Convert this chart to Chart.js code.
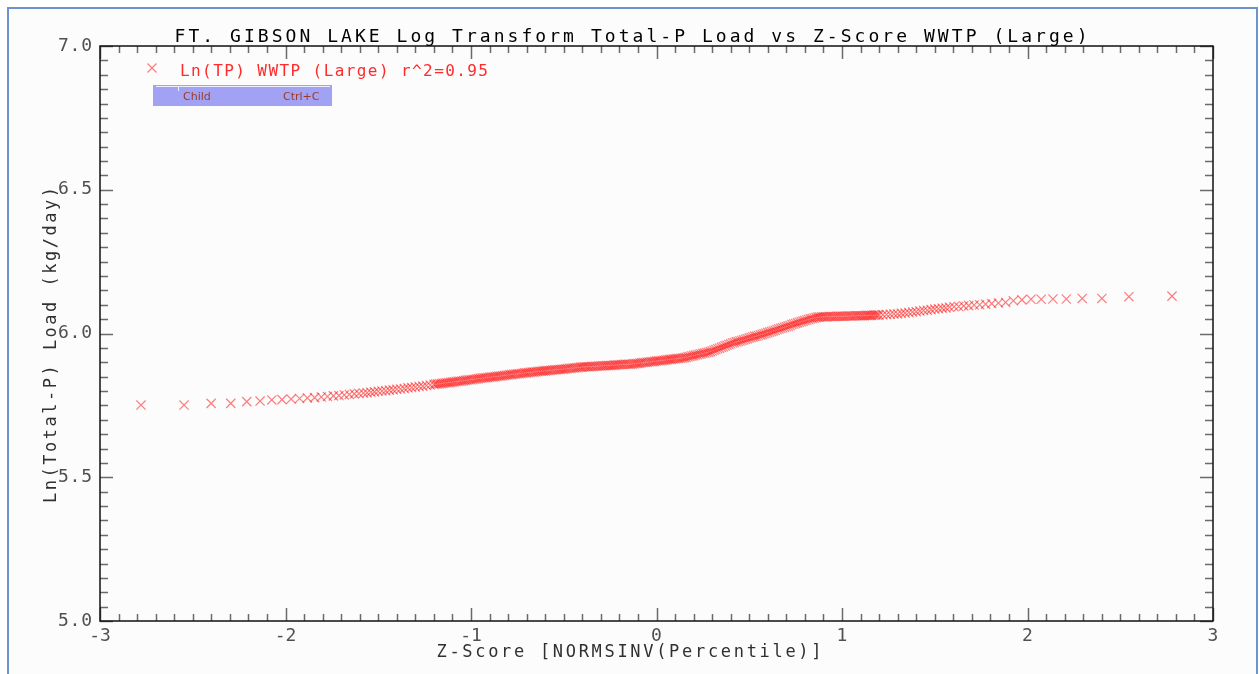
<!DOCTYPE html>
<html>
<head>
<meta charset="utf-8">
<title>FT. GIBSON LAKE Log Transform Total-P Load vs Z-Score WWTP (Large)</title>
<script src="https://cdn.jsdelivr.net/npm/chart.js@4.4.0/dist/chart.umd.min.js"></script>
<style>
  html, body { margin: 0; padding: 0; background: #ffffff; }
  #wrap { width: 1259px; height: 674px; }
</style>
</head>
<body>
<div id="wrap"><canvas id="chart" width="1259" height="674"></canvas></div>
<script>
// z-scores, lower tail (single visible markers)
const zLow = [-2.779, -2.547, -2.401, -2.295, -2.209, -2.137, -2.074, -2.019, -1.970, -1.924,
  -1.882, -1.843, -1.807, -1.774, -1.742, -1.712, -1.683, -1.656, -1.629, -1.604];
const lnLow = [5.751, 5.751, 5.757, 5.757, 5.763, 5.765, 5.769, 5.770, 5.772, 5.774,
  5.776, 5.777, 5.779, 5.781, 5.783, 5.784, 5.786, 5.788, 5.790, 5.791];

// middle band (even hundredths)
const zMid = [
  -1.58, -1.56, -1.54, -1.52, -1.50, -1.48, -1.46, -1.44, -1.42, -1.40,
  -1.38, -1.36, -1.34, -1.32, -1.30, -1.28, -1.26, -1.24, -1.22, -1.20,
  -1.18, -1.16, -1.14, -1.12, -1.10, -1.08, -1.06, -1.04, -1.02, -1.00,
  -0.98, -0.96, -0.94, -0.92, -0.90, -0.88, -0.86, -0.84, -0.82, -0.80,
  -0.78, -0.76, -0.74, -0.72, -0.70, -0.68, -0.66, -0.64, -0.62, -0.60,
  -0.58, -0.56, -0.54, -0.52, -0.50, -0.48, -0.46, -0.44, -0.42, -0.40,
  -0.38, -0.36, -0.34, -0.32, -0.30, -0.28, -0.26, -0.24, -0.22, -0.20,
  -0.18, -0.16, -0.14, -0.12, -0.10, -0.08, -0.06, -0.04, -0.02, 0.00,
  0.02, 0.04, 0.06, 0.08, 0.10, 0.12, 0.14, 0.16, 0.18, 0.20,
  0.22, 0.24, 0.26, 0.28, 0.30, 0.32, 0.34, 0.36, 0.38, 0.40,
  0.42, 0.44, 0.46, 0.48, 0.50, 0.52, 0.54, 0.56, 0.58, 0.60,
  0.62, 0.64, 0.66, 0.68, 0.70, 0.72, 0.74, 0.76, 0.78, 0.80,
  0.82, 0.84, 0.86, 0.88, 0.90, 0.92, 0.94, 0.96, 0.98, 1.00,
  1.02, 1.04, 1.06, 1.08, 1.10, 1.12, 1.14, 1.16, 1.18, 1.20,
  1.22, 1.24, 1.26, 1.28, 1.30, 1.32, 1.34, 1.36, 1.38, 1.40,
  1.42, 1.44, 1.46, 1.48, 1.50, 1.52, 1.54, 1.56, 1.58
];
const lnMid = [
  5.793, 5.794, 5.796, 5.797, 5.799, 5.800, 5.801, 5.803, 5.804, 5.806,
  5.807, 5.809, 5.811, 5.812, 5.814, 5.816, 5.817, 5.819, 5.821, 5.823,
  5.824, 5.826, 5.828, 5.829, 5.831, 5.833, 5.834, 5.836, 5.838, 5.839,
  5.841, 5.843, 5.845, 5.846, 5.848, 5.849, 5.851, 5.852, 5.854, 5.856,
  5.857, 5.859, 5.860, 5.862, 5.863, 5.865, 5.866, 5.868, 5.869, 5.870,
  5.871, 5.873, 5.874, 5.875, 5.876, 5.878, 5.879, 5.880, 5.882, 5.883,
  5.884, 5.884, 5.885, 5.886, 5.887, 5.888, 5.889, 5.889, 5.890, 5.891,
  5.892, 5.893, 5.893, 5.895, 5.896, 5.898, 5.899, 5.901, 5.902, 5.904,
  5.905, 5.907, 5.909, 5.910, 5.912, 5.913, 5.915, 5.917, 5.920, 5.923,
  5.926, 5.929, 5.932, 5.935, 5.939, 5.944, 5.949, 5.954, 5.959, 5.964,
  5.969, 5.972, 5.976, 5.980, 5.984, 5.988, 5.991, 5.995, 5.999, 6.003,
  6.007, 6.011, 6.016, 6.020, 6.024, 6.028, 6.033, 6.037, 6.041, 6.045,
  6.049, 6.052, 6.056, 6.057, 6.058, 6.058, 6.059, 6.059, 6.060, 6.060,
  6.060, 6.061, 6.061, 6.062, 6.062, 6.062, 6.063, 6.063, 6.064, 6.064,
  6.065, 6.066, 6.067, 6.068, 6.068, 6.070, 6.071, 6.073, 6.075, 6.076,
  6.078, 6.080, 6.081, 6.083, 6.085, 6.086, 6.088, 6.089, 6.091
];

// densest part of the band (odd hundredths)
const zMid2 = [
  -1.19, -1.17, -1.15, -1.13, -1.11, -1.09, -1.07, -1.05, -1.03, -1.01,
  -0.99, -0.97, -0.95, -0.93, -0.91, -0.89, -0.87, -0.85, -0.83, -0.81,
  -0.79, -0.77, -0.75, -0.73, -0.71, -0.69, -0.67, -0.65, -0.63, -0.61,
  -0.59, -0.57, -0.55, -0.53, -0.51, -0.49, -0.47, -0.45, -0.43, -0.41,
  -0.39, -0.37, -0.35, -0.33, -0.31, -0.29, -0.27, -0.25, -0.23, -0.21,
  -0.19, -0.17, -0.15, -0.13, -0.11, -0.09, -0.07, -0.05, -0.03, -0.01,
  0.01, 0.03, 0.05, 0.07, 0.09, 0.11, 0.13, 0.15, 0.17, 0.19,
  0.21, 0.23, 0.25, 0.27, 0.29, 0.31, 0.33, 0.35, 0.37, 0.39,
  0.41, 0.43, 0.45, 0.47, 0.49, 0.51, 0.53, 0.55, 0.57, 0.59,
  0.61, 0.63, 0.65, 0.67, 0.69, 0.71, 0.73, 0.75, 0.77, 0.79,
  0.81, 0.83, 0.85, 0.87, 0.89, 0.91, 0.93, 0.95, 0.97, 0.99,
  1.01, 1.03, 1.05, 1.07, 1.09, 1.11, 1.13, 1.15, 1.17, 1.19
];
const lnMid2 = [
  5.824, 5.825, 5.827, 5.829, 5.830, 5.832, 5.834, 5.835, 5.837, 5.839,
  5.840, 5.842, 5.844, 5.846, 5.847, 5.849, 5.850, 5.852, 5.853, 5.855,
  5.857, 5.858, 5.860, 5.861, 5.863, 5.864, 5.866, 5.867, 5.869, 5.870,
  5.871, 5.872, 5.874, 5.875, 5.876, 5.877, 5.879, 5.880, 5.881, 5.883,
  5.884, 5.884, 5.885, 5.886, 5.887, 5.888, 5.889, 5.889, 5.890, 5.891,
  5.892, 5.893, 5.893, 5.894, 5.896, 5.897, 5.899, 5.900, 5.902, 5.903,
  5.905, 5.906, 5.908, 5.910, 5.911, 5.913, 5.914, 5.916, 5.919, 5.922,
  5.925, 5.928, 5.931, 5.934, 5.937, 5.942, 5.947, 5.952, 5.957, 5.962,
  5.967, 5.971, 5.974, 5.978, 5.982, 5.986, 5.990, 5.993, 5.997, 6.001,
  6.005, 6.009, 6.014, 6.018, 6.022, 6.026, 6.031, 6.035, 6.039, 6.043,
  6.047, 6.051, 6.054, 6.057, 6.058, 6.058, 6.059, 6.059, 6.060, 6.060,
  6.060, 6.061, 6.061, 6.062, 6.062, 6.062, 6.063, 6.063, 6.064, 6.064
];

// upper tail
const zHigh = [1.604, 1.629, 1.656, 1.683, 1.712, 1.742, 1.774, 1.807, 1.843, 1.882,
  1.924, 1.970, 2.019, 2.074, 2.137, 2.209, 2.295, 2.401, 2.547, 2.779];
const lnHigh = [6.093, 6.094, 6.096, 6.097, 6.099, 6.100, 6.102, 6.104, 6.106, 6.108,
  6.114, 6.117, 6.119, 6.119, 6.120, 6.120, 6.122, 6.122, 6.128, 6.130];

const xTickValues = [-3, -2, -1, 0, 1, 2, 3];
const xTickLabels = ['-3', '-2', '-1', '0', '1', '2', '3'];
const yTickValues = [5.0, 5.5, 6.0, 6.5, 7.0];
const yTickLabels = ['5.0', '5.5', '6.0', '6.5', '7.0'];

const titleText = 'FT. GIBSON LAKE Log Transform Total-P Load vs Z-Score WWTP (Large)';
const seriesLabel = 'Ln(TP) WWTP (Large) r^2=0.95';
const xTitle = 'Z-Score [NORMSINV(Percentile)]';
const yTitle = 'Ln(Total-P) Load (kg/day)';

const zAll = zLow.concat(zMid, zMid2, zHigh);
const lnAll = lnLow.concat(lnMid, lnMid2, lnHigh);
const points = zAll.map((z, i) => ({ x: z, y: lnAll[i] }));

const MONO = '"DejaVu Sans Mono", "Liberation Mono", monospace';
const markerColor = 'rgba(255, 0, 0, 0.5)';

// draw text char by char so it fills a given width (wide letter spacing of the original)
function spacedText(ctx, text, x, y, width, align) {
  const chars = [...text];
  const ws = chars.map(c => ctx.measureText(c).width);
  const natural = ws.reduce((a, b) => a + b, 0);
  const gap = chars.length > 1 ? (width - natural) / (chars.length - 1) : 0;
  let cx = align === 'center' ? x - width / 2 : (align === 'right' ? x - width : x);
  ctx.textAlign = 'left';
  chars.forEach((c, i) => {
    ctx.fillText(c, cx, y);
    cx += ws[i] + gap;
  });
}

const framePlugin = {
  id: 'frame',
  beforeDraw(chart) {
    const ctx = chart.ctx;
    ctx.save();
    ctx.fillStyle = '#fcfcfc';
    ctx.fillRect(8, 8, 1249, 700);
    ctx.strokeStyle = '#6b93cf';
    ctx.lineWidth = 2;
    ctx.strokeRect(8, 8, 1249, 700);
    ctx.restore();
  },
  afterDraw(chart) {
    const ctx = chart.ctx;
    const a = chart.chartArea;
    const xs = chart.scales.x, ys = chart.scales.y;
    ctx.save();

    // inward ticks on all four sides
    ctx.strokeStyle = '#6a6a6a';
    ctx.lineWidth = 1.5;
    ctx.beginPath();
    for (let i = -30; i <= 30; i++) {
      const px = Math.round(xs.getPixelForValue(i / 10)) + 0.5;
      const len = i % 10 === 0 ? 13 : 7;
      ctx.moveTo(px, a.bottom); ctx.lineTo(px, a.bottom - len);
      ctx.moveTo(px, a.top); ctx.lineTo(px, a.top + len);
    }
    for (let i = 0; i <= 40; i++) {
      const py = Math.round(ys.getPixelForValue(5 + i * 0.05)) + 0.5;
      const len = i % 10 === 0 ? 13 : 8;
      ctx.moveTo(a.left, py); ctx.lineTo(a.left + len, py);
      ctx.moveTo(a.right, py); ctx.lineTo(a.right - len, py);
    }
    ctx.stroke();

    // axis box
    ctx.strokeStyle = '#111111';
    ctx.lineWidth = 1.5;
    ctx.strokeRect(a.left, a.top, a.right - a.left, a.bottom - a.top);

    // tick labels
    ctx.fillStyle = '#505050';
    ctx.font = '18px ' + MONO;
    ctx.textBaseline = 'middle';
    yTickValues.forEach((v, i) => {
      spacedText(ctx, yTickLabels[i], a.left - 8, ys.getPixelForValue(v), 34, 'right');
    });
    ctx.textBaseline = 'alphabetic';
    ctx.textAlign = 'center';
    xTickValues.forEach((v, i) => {
      ctx.fillText(xTickLabels[i], xs.getPixelForValue(v), 641);
    });

    // title
    ctx.fillStyle = '#000000';
    ctx.font = '18px ' + MONO;
    spacedText(ctx, titleText, 631, 42, 913, 'center');

    // axis titles
    ctx.fillStyle = '#303030';
    ctx.font = '17px ' + MONO;
    spacedText(ctx, xTitle, 629, 657, 385, 'center');
    ctx.save();
    ctx.translate(56, 345);
    ctx.rotate(-Math.PI / 2);
    spacedText(ctx, yTitle, 0, 0, 316, 'center');
    ctx.restore();

    // legend
    ctx.strokeStyle = markerColor;
    ctx.lineWidth = 1.2;
    ctx.beginPath();
    ctx.moveTo(147.5, 63.5); ctx.lineTo(156.5, 72.5);
    ctx.moveTo(156.5, 63.5); ctx.lineTo(147.5, 72.5);
    ctx.stroke();
    ctx.fillStyle = '#ff2a2a';
    ctx.font = '16px ' + MONO;
    spacedText(ctx, seriesLabel, 180, 76, 308, 'left');

    // the little "Child / Ctrl+C" tooltip bar in the original screenshot
    ctx.fillStyle = '#a2a2f4';
    ctx.fillRect(153, 85, 179, 21);
    ctx.strokeStyle = '#eeeeff';
    ctx.lineWidth = 1;
    ctx.beginPath();
    ctx.moveTo(156, 86.5); ctx.lineTo(330, 86.5);
    ctx.moveTo(178.5, 86.5); ctx.lineTo(178.5, 91);
    ctx.stroke();
    ctx.fillStyle = '#9a3a2a';
    ctx.font = '11px "DejaVu Sans", sans-serif';
    ctx.textAlign = 'left';
    ctx.fillText('Child', 183, 100);
    ctx.fillText('Ctrl+C', 283, 100);

    ctx.restore();
  }
};

new Chart(document.getElementById('chart'), {
  type: 'scatter',
  data: {
    datasets: [{
      label: seriesLabel,
      data: points,
      pointStyle: 'crossRot',
      pointRadius: 6.5,
      pointBorderWidth: 1.2,
      borderColor: markerColor,
      backgroundColor: markerColor,
      showLine: false
    }]
  },
  options: {
    responsive: false,
    animation: false,
    devicePixelRatio: 1,
    events: [],
    layout: { padding: { left: 100, top: 46, right: 46, bottom: 53 } },
    scales: {
      x: { type: 'linear', display: false, min: -3, max: 3 },
      y: { type: 'linear', display: false, min: 5, max: 7 }
    },
    plugins: {
      legend: { display: false },
      tooltip: { enabled: false },
      title: { display: false }
    }
  },
  plugins: [framePlugin]
});
</script>
</body>
</html>
